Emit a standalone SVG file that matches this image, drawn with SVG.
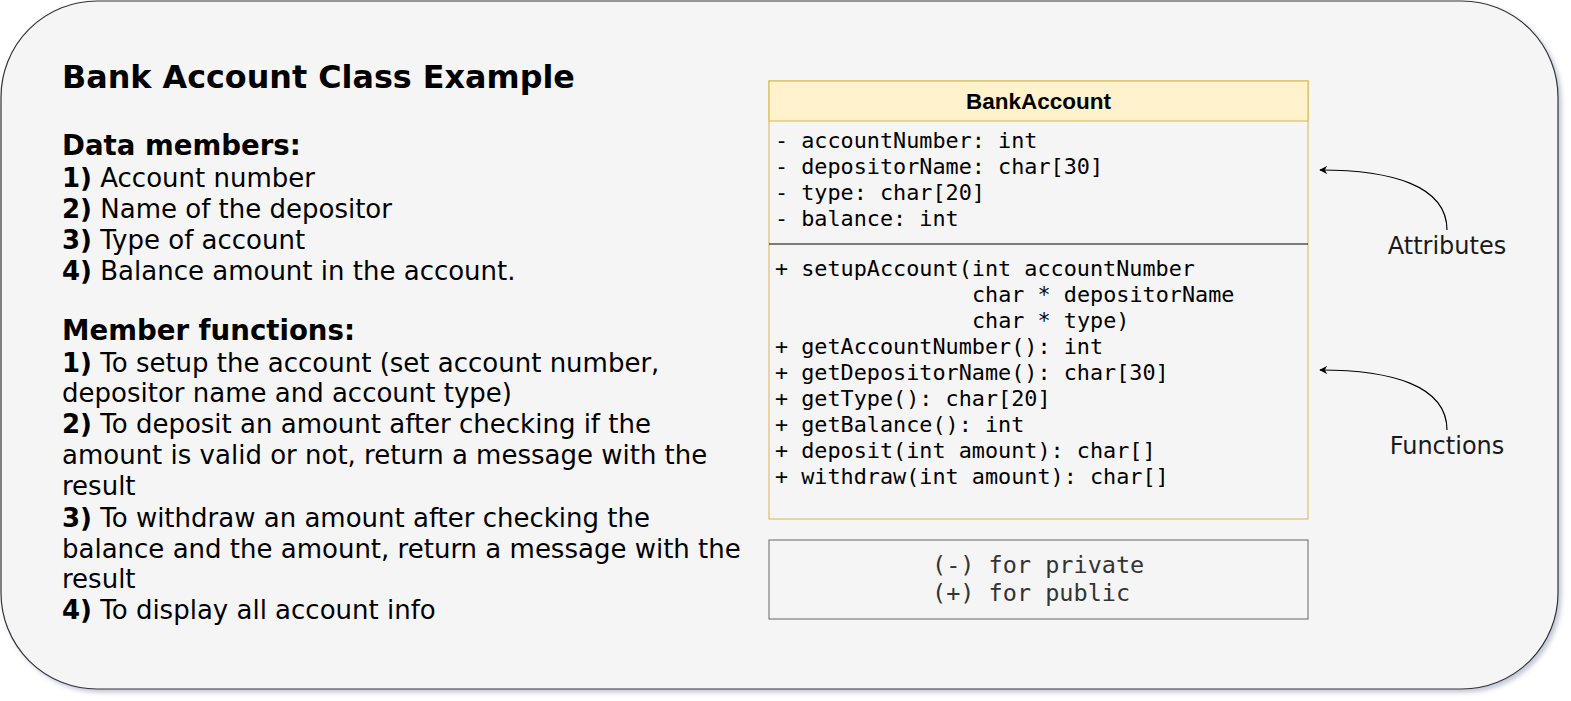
<svg xmlns="http://www.w3.org/2000/svg" width="1571" height="701" viewBox="0 0 1571 701">
<style>
.sans{font-family:"DejaVu Sans","Verdana",sans-serif;fill:#000}
.b{font-weight:bold}
.mono{font-family:"DejaVu Sans Mono","Liberation Mono",monospace;font-size:21.8px;fill:#000}
.body{font-size:26px}
.h{font-size:27.6px;font-weight:bold}
.lbl{font-family:"DejaVu Sans",sans-serif;font-size:24px;fill:#1a1a1a;text-anchor:middle}
.conn{fill:none;stroke:#000;stroke-width:1.2}
</style>
<defs>
<filter id="sh" x="-5%" y="-5%" width="110%" height="110%">
<feDropShadow dx="3" dy="3" stdDeviation="2" flood-color="#5a6690" flood-opacity="0.35"/>
</filter>
<marker id="arr" viewBox="0 0 10 10" refX="9" refY="5" markerWidth="8" markerHeight="8" orient="auto-start-reverse" markerUnits="userSpaceOnUse">
<path d="M0,0 L10,5 L0,10 L3,5 Z" fill="#000"/>
</marker>
</defs>
<g id="background">
<rect x="1" y="1" width="1557" height="688" rx="96" ry="96" fill="#f5f5f5" stroke="#333" stroke-width="1.2" filter="url(#sh)"/>
</g>
<g id="description">
<text class="sans b" x="62" y="88" font-size="31.8">Bank Account Class Example</text>
<text class="sans h" x="62" y="155">Data members:</text>
<text class="sans body" x="62" y="187"><tspan font-weight="bold">1)</tspan> Account number</text>
<text class="sans body" x="62" y="218"><tspan font-weight="bold">2)</tspan> Name of the depositor</text>
<text class="sans body" x="62" y="249"><tspan font-weight="bold">3)</tspan> Type of account</text>
<text class="sans body" x="62" y="280"><tspan font-weight="bold">4)</tspan> Balance amount in the account.</text>
<text class="sans h" x="62" y="340">Member functions:</text>
<text class="sans body" x="62" y="372"><tspan font-weight="bold">1)</tspan> To setup the account (set account number,</text>
<text class="sans body" x="62" y="402">depositor name and account type)</text>
<text class="sans body" x="62" y="433"><tspan font-weight="bold">2)</tspan> To deposit an amount after checking if the</text>
<text class="sans body" x="62" y="464">amount is valid or not, return a message with the</text>
<text class="sans body" x="62" y="495">result</text>
<text class="sans body" x="62" y="527"><tspan font-weight="bold">3)</tspan> To withdraw an amount after checking the</text>
<text class="sans body" x="62" y="558">balance and the amount, return a message with the</text>
<text class="sans body" x="62" y="588">result</text>
<text class="sans body" x="62" y="619"><tspan font-weight="bold">4)</tspan> To display all account info</text>
</g>
<g id="class-BankAccount">
<rect x="769" y="81" width="539" height="438" fill="#f5f5f5" stroke="#d6b656" stroke-width="1"/>
<rect x="769" y="81" width="539" height="40" fill="#fff2cc" stroke="#d6b656" stroke-width="1"/>
<text x="1038.5" y="109" font-family="Liberation Sans,Arial,sans-serif" font-weight="bold" font-size="22.5" text-anchor="middle" fill="#000">BankAccount</text>
<text class="mono" x="775" y="148">- accountNumber: int</text>
<text class="mono" x="775" y="174">- depositorName: char[30]</text>
<text class="mono" x="775" y="200">- type: char[20]</text>
<text class="mono" x="775" y="226">- balance: int</text>
<line x1="769" y1="244" x2="1308" y2="244" stroke="#000" stroke-width="1"/>
<text class="mono" x="775" y="276">+ setupAccount(int accountNumber</text>
<text class="mono" x="972" y="302">char * depositorName</text>
<text class="mono" x="972" y="328">char * type)</text>
<text class="mono" x="775" y="354">+ getAccountNumber(): int</text>
<text class="mono" x="775" y="380">+ getDepositorName(): char[30]</text>
<text class="mono" x="775" y="406">+ getType(): char[20]</text>
<text class="mono" x="775" y="432">+ getBalance(): int</text>
<text class="mono" x="775" y="458">+ deposit(int amount): char[]</text>
<text class="mono" x="775" y="484">+ withdraw(int amount): char[]</text>
</g>
<g id="legend">
<rect x="769" y="540" width="539" height="79" fill="#f5f5f5" stroke="#666" stroke-width="1"/>
<text class="mono" x="932" y="573" font-size="23.5" fill="#333" style="font-size:23.5px;fill:#333">(-) for private</text>
<text class="mono" x="932" y="601" style="font-size:23.5px;fill:#333">(+) for public</text>
</g>
<g id="label-attributes">
<text class="lbl" x="1447" y="254">Attributes</text>
</g>
<g id="label-functions">
<text class="lbl" x="1447" y="454">Functions</text>
</g>
<g id="connectors">
<path class="conn" d="M1447,230 C1447,185 1390,170 1320,170" marker-end="url(#arr)"/>
<path class="conn" d="M1447,430 C1447,385 1390,370 1320,370" marker-end="url(#arr)"/>
</g>
</svg>
